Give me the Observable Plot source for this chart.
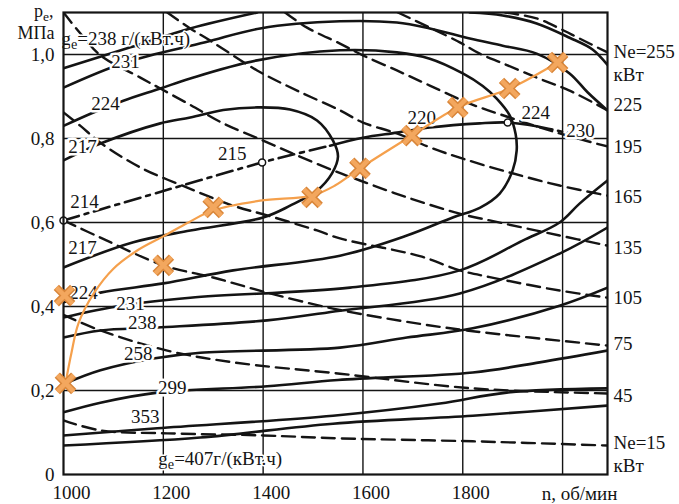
<!DOCTYPE html>
<html><head><meta charset="utf-8">
<script src="https://cdn.jsdelivr.net/npm/d3@7"></script>
<script src="https://cdn.jsdelivr.net/npm/@observablehq/plot@0.6"></script>
<style>html,body{margin:0;padding:0;background:#fff}svg{display:block}</style>
</head><body><div id="chart"></div>
<script>
// ---- axes / grid ----
const nTicks = [1000, 1200, 1400, 1600, 1800];
const peTicks = [0, 0.2, 0.4, 0.6, 0.8, 1.0];
const gridN = [1200, 1400, 1600, 1800, 2000];
const gridPe = [0.2, 0.4, 0.6, 0.8, 1.0];
const xTitle = "n, об/мин";
const yTitleTop = "pe,";
const yTitleUnit = "МПа";

// ---- constant power lines Ne, kW (dashed) : [n, pe] ----
const ne255 = [[1885,1.10],[1948,1.086],[1994,1.062],[2034,1.038],[2090,1.005]];
const ne225 = [[1670,1.10],[1734,1.064],[1794,1.029],[1834,1.002],[1880,0.979],[1948,0.945],[2014,0.914],[2090,0.867]];
const ne195 = [[1444,1.10],[1488,1.064],[1554,1.026],[1600,0.998],[1668,0.962],[1734,0.926],[1814,0.883],[1894,0.850],[1994,0.812],[2090,0.781]];
const ne165 = [[1208,1.10],[1254,1.062],[1294,1.033],[1388,0.962],[1468,0.914],[1554,0.867],[1600,0.838],[1668,0.812],[1734,0.779],[1800,0.752],[1894,0.719],[1994,0.688],[2090,0.664]];
const ne135 = [[1000,1.10],[1034,1.05],[1074,0.998],[1154,0.945],[1194,0.919],[1254,0.88],[1320,0.836],[1400,0.795],[1454,0.767],[1540,0.724],[1594,0.700],[1688,0.660],[1794,0.621],[1854,0.605],[1994,0.569],[2090,0.545]];
const ne105 = [[1000,0.862],[1034,0.83],[1074,0.79],[1154,0.731],[1248,0.683],[1340,0.64],[1408,0.617],[1508,0.581],[1554,0.562],[1714,0.52],[1794,0.486],[1854,0.47],[1994,0.438],[2090,0.421]];
const ne75  = [[1000,0.605],[1074,0.564],[1200,0.498],[1300,0.469],[1408,0.433],[1540,0.395],[1680,0.365],[1808,0.343],[2090,0.307]];
const ne45  = [[1000,0.38],[1074,0.343],[1208,0.295],[1340,0.267],[1554,0.24],[1820,0.205],[2090,0.193]];
const ne15  = [[1000,0.129],[1074,0.105],[1208,0.098],[1400,0.093],[1554,0.086],[1820,0.079],[2090,0.069]];

// ---- specific fuel consumption contours ge, g/(kW·h) (solid) ----
const ge217  = [[1000,0.748],[1074,0.788],[1194,0.836],[1254,0.85],[1320,0.868],[1388,0.874],[1454,0.869],[1508,0.843],[1540,0.795],[1550,0.757],[1538,0.717],[1508,0.676],[1454,0.640],[1400,0.612],[1254,0.581],[1140,0.553],[1000,0.493]];
const ge224  = [[1000,0.83],[1060,0.862],[1120,0.89],[1194,0.919],[1254,0.943],[1388,0.986],[1554,1.01],[1668,1.005],[1734,0.99],[1800,0.955],[1840,0.925],[1868,0.895],[1894,0.855],[1906,0.81],[1908,0.771],[1900,0.724],[1874,0.669],[1834,0.635],[1780,0.612],[1688,0.569],[1554,0.521],[1340,0.486],[1200,0.455],[1074,0.433],[1000,0.41]];
const ge231a = [[1000,0.921],[1124,0.981],[1284,1.029],[1394,1.062],[1554,1.079],[1668,1.076],[1734,1.062],[1814,1.038],[1880,1.021],[1948,1.002],[2014,0.955],[2050,0.91],[2090,0.867]];
const ge231b = [[2090,0.70],[2034,0.645],[1994,0.60],[1920,0.557],[1794,0.486],[1574,0.445],[1254,0.421],[1114,0.402],[1000,0.374]];
const ge238a = [[1000,0.967],[1134,1.017],[1254,1.062],[1388,1.10]];
const ge238b = [[1814,1.10],[1880,1.093],[1948,1.074],[2014,1.040],[2060,1.012],[2090,0.975]];
const ge238c = [[2090,0.588],[1994,0.526],[1794,0.431],[1554,0.390],[1408,0.367],[1188,0.350],[1074,0.343],[1000,0.326]];
const ge258  = [[2090,0.445],[1994,0.402],[1820,0.348],[1688,0.326],[1554,0.302],[1274,0.290],[1180,0.276],[1074,0.248],[1004,0.217]];
const ge299  = [[1000,0.148],[1074,0.171],[1188,0.195],[1408,0.21],[1550,0.225],[1820,0.243],[1954,0.267],[2090,0.295]];
const ge353  = [[1000,0.093],[1188,0.11],[1540,0.14],[1754,0.169],[1888,0.195],[2090,0.205]];
const ge407  = [[1000,0.069],[1274,0.088],[1540,0.121],[1820,0.14],[2090,0.164]];

// ---- line of minimum ge (dash-dot / solid parts) ----
const ecoDashA = [[1000,0.605],[1200,0.675],[1398,0.743],[1454,0.76],[1534,0.783]];
const ecoSolid = [[1534,0.783],[1600,0.802],[1668,0.814],[1734,0.826],[1834,0.836],[1890,0.838],[1948,0.829]];
const ecoDashB = [[1948,0.829],[1988,0.819],[2024,0.81]];
const ecoPoints = [[1000,0.605],[1398,0.743],[1890,0.838]];

// ---- measured points (orange X) and fitted curve ----
const testN  = [1004, 1002, 1200, 1300, 1498, 1594, 1698, 1790, 1894, 1990];
const testPe = [0.217, 0.426, 0.498, 0.636, 0.66, 0.729, 0.807, 0.874, 0.919, 0.981];
const fitCurve = [[1004,0.217],[1016,0.29],[1030,0.36],[1060,0.43],[1100,0.49],[1150,0.535],[1200,0.567],[1250,0.60],[1300,0.629],[1394,0.652],[1498,0.664],[1544,0.688],[1594,0.729],[1698,0.807],[1790,0.874],[1894,0.919],[1990,0.981]];

// ---- labels ----
const geLabelText = ["214","215","220","224","230","217","224","231","217","224","231","238","258","299","353"];
const geLabelN    = [1042, 1338, 1718, 1946, 2036, 1038, 1084, 1124, 1038, 1040, 1134, 1158, 1150, 1218, 1164];
const geLabelPe   = [0.650, 0.764, 0.848, 0.862, 0.817, 0.779, 0.883, 0.983, 0.540, 0.433, 0.405, 0.362, 0.286, 0.205, 0.138];
const geLongText = ["ge=238 г/(кВт.ч)", "ge=407г/(кВт.ч)"];
const geLongN    = [1000, 1194];
const geLongPe   = [1.036, 0.036];
const neLabelText = ["Ne=255","кВт","225","195","165","135","105","75","45","Ne=15","кВт"];
const neLabelPe   = [1.007, 0.952, 0.879, 0.779, 0.660, 0.540, 0.421, 0.312, 0.188, 0.076, 0.021];

// ---- build tables ----
const rows = (list) => list.flatMap(([id, pts]) => pts.map(([n, pe]) => ({id, n, pe})));
const neRows = rows([["255",ne255],["225",ne225],["195",ne195],["165",ne165],["135",ne135],["105",ne105],["75",ne75],["45",ne45],["15",ne15]]);
const geRows = rows([["217",ge217],["224",ge224],["231a",ge231a],["231b",ge231b],["238a",ge238a],["238b",ge238b],["238c",ge238c],["258",ge258],["299",ge299],["353",ge353],["407",ge407]]);
const ecoDashRows = rows([["a",ecoDashA],["b",ecoDashB]]);
const ecoSolidRows = rows([["s",ecoSolid]]);
const ecoPointRows = rows([["p",ecoPoints]]);
const fitRows = rows([["fit",fitCurve]]);
const tests = testN.map((n, i) => ({n, pe: testPe[i]}));

const ink = "#141414";
const chart = Plot.plot({
  width: 679, height: 504,
  marginLeft: 63, marginRight: 72, marginTop: 12, marginBottom: 30,
  x: {domain: [1000, 2090], label: null},
  y: {domain: [0, 1.1], label: null},
  style: {fontFamily: "'Liberation Serif','Times New Roman',serif", fontSize: "19px", background: "#fff", color: ink, overflow: "visible"},
  marks: [
    Plot.ruleX(gridN, {stroke: ink, strokeWidth: 1.4}),
    Plot.ruleY(gridPe, {stroke: ink, strokeWidth: 1.4}),
    Plot.line(neRows, {x: "n", y: "pe", z: "id", stroke: ink, strokeWidth: 2.4, strokeDasharray: "13,7", curve: "catmull-rom", clip: true}),
    Plot.line(geRows, {x: "n", y: "pe", z: "id", stroke: ink, strokeWidth: 2.6, curve: "catmull-rom", clip: true}),
    Plot.line(ecoDashRows, {x: "n", y: "pe", z: "id", stroke: ink, strokeWidth: 2.6, strokeDasharray: "16,6,4,6", curve: "catmull-rom", clip: true}),
    Plot.line(ecoSolidRows, {x: "n", y: "pe", stroke: ink, strokeWidth: 2.6, curve: "catmull-rom", clip: true}),
    Plot.dot(ecoPointRows, {x: "n", y: "pe", r: 3.5, fill: "#fff", stroke: ink, strokeWidth: 1.5}),
    Plot.text(geLabelText, {x: geLabelN, y: geLabelPe, text: d => d, fill: ink, stroke: "#fff", strokeWidth: 5, paintOrder: "stroke"}),
    Plot.text(geLongText, {x: geLongN, y: geLongPe, text: d => d, textAnchor: "start", dx: -2, fill: ink, stroke: "#fff", strokeWidth: 3, paintOrder: "stroke"}),
    Plot.frame({stroke: ink, strokeWidth: 2.2}),
    Plot.line(fitRows, {x: "n", y: "pe", stroke: "#f5a04c", strokeWidth: 2.2, curve: "catmull-rom"}),
    Plot.dot(tests, {x: "n", y: "pe", symbol: "times", r: 7.5, stroke: "#d9863a", strokeWidth: 7.5}),
    Plot.dot(tests, {x: "n", y: "pe", symbol: "times", r: 7.5, stroke: "#f3a75e", strokeWidth: 4.5}),
    Plot.axisX({ticks: nTicks, tickSize: 0, tickPadding: 11, dx: 8, tickFormat: d3.format("d"), label: null}),
    Plot.axisY({ticks: peTicks, tickSize: 0, tickPadding: 9, tickFormat: d => d === 0 ? "0" : d3.format(".1f")(d).replace(".", ","), label: null}),
    Plot.text(neLabelText, {x: neLabelText.map(() => 2090), y: neLabelPe, text: d => d, textAnchor: "start", dx: 6, fill: ink}),
    Plot.text([xTitle], {x: [2034], y: [0], text: d => d, dy: 19, fill: ink}),
    Plot.text([yTitleTop], {frameAnchor: "top-left", lineAnchor: "middle", textAnchor: "end", dx: -10, dy: -1, fontSize: 18, text: d => d, fill: ink}),
    Plot.text([yTitleUnit], {frameAnchor: "top-left", lineAnchor: "middle", textAnchor: "end", dx: -9, dy: 21, fontSize: 18, text: d => d, fill: ink})
  ]
});

// subscript "e" in g_e / p_e
d3.select(chart).selectAll("text").each(function () {
  if (this.querySelector("tspan")) return;
  const m = /^([gp])e(.*)$/.exec(this.textContent);
  if (!m) return;
  const el = d3.select(this);
  el.text(null);
  el.append("tspan").text(m[1]);
  el.append("tspan").attr("dy", 4).attr("font-size", "0.75em").text("e");
  el.append("tspan").attr("dy", -4).text(m[2]);
});
document.getElementById("chart").append(chart);
</script>
</body></html>
